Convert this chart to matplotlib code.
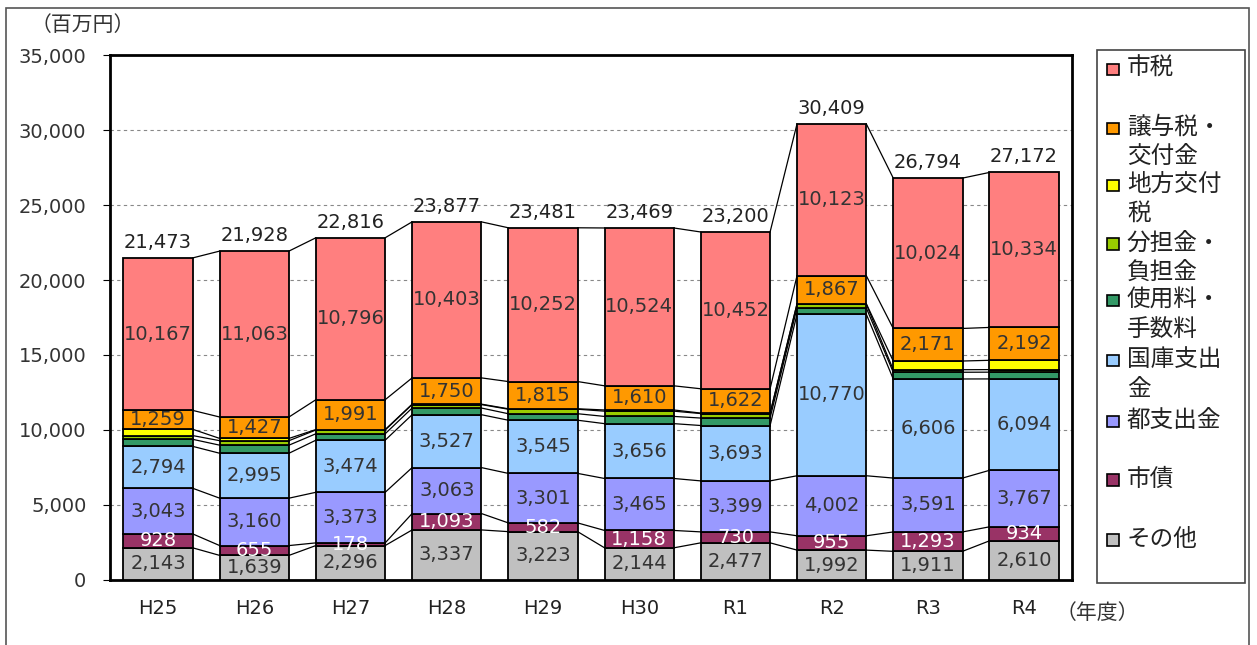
import matplotlib.pyplot as plt
from matplotlib.patches import Rectangle
import numpy as np

plt.rcParams['font.family'] = ['Noto Sans CJK JP', 'DejaVu Sans']

years = ['H25', 'H26', 'H27', 'H28', 'H29', 'H30', 'R1', 'R2', 'R3', 'R4']

# 下から積み上げる順
sonota = [2143, 1639, 2296, 3337, 3223, 2144, 2477, 1992, 1911, 2610]
shisai = [928, 655, 178, 1093, 582, 1158, 730, 955, 1293, 934]
toshishutsu = [3043, 3160, 3373, 3063, 3301, 3465, 3399, 4002, 3591, 3767]
kokko = [2794, 2995, 3474, 3527, 3545, 3656, 3693, 10770, 6606, 6094]
shiyoryo = [469, 539, 428, 444, 433, 482, 497, 420, 448, 451]
buntan = [250, 300, 250, 230, 300, 350, 300, 250, 170, 170]
chiho = [420, 150, 30, 30, 30, 80, 30, 30, 580, 620]
joyo = [1259, 1427, 1991, 1750, 1815, 1610, 1622, 1867, 2171, 2192]
shizei = [10167, 11063, 10796, 10403, 10252, 10524, 10452, 10123, 10024, 10334]

series = [
    ('その他', sonota, '#C0C0C0', True, '#333333'),
    ('市債', shisai, '#993366', True, 'white'),
    ('都支出金', toshishutsu, '#9999FF', True, '#333333'),
    ('国庫支出\n金', kokko, '#99CCFF', True, '#333333'),
    ('使用料・\n手数料', shiyoryo, '#339966', False, None),
    ('分担金・\n負担金', buntan, '#99CC00', False, None),
    ('地方交付\n税', chiho, '#FFFF00', False, None),
    ('譲与税・\n交付金', joyo, '#FF9900', True, '#333333'),
    ('市税', shizei, '#FF7F7F', True, '#333333'),
]

num_font = 'DejaVu Sans'

fig = plt.figure(figsize=(12.57, 6.45), dpi=100)
ax = fig.add_axes([0.0875, 0.1008, 0.7655, 0.8139])

x = np.arange(len(years))
w = 0.72
bottom = np.zeros(len(years))
levels = []
for name, vals, color, show, tcolor in series:
    vals = np.array(vals)
    ax.bar(x, vals, w, bottom=bottom, color=color, edgecolor='black',
           linewidth=1.3, zorder=3)
    if show:
        for i in range(len(x)):
            ax.text(x[i], bottom[i] + vals[i] / 2, f'{vals[i]:,}', ha='center',
                    va='center', fontsize=14, color=tcolor, zorder=5,
                    family=num_font)
    bottom = bottom + vals
    levels.append(bottom.copy())

# 系列線
for lv in levels:
    for i in range(len(x) - 1):
        ax.plot([x[i] + w / 2, x[i + 1] - w / 2], [lv[i], lv[i + 1]],
                color='black', linewidth=0.9, zorder=2)

totals = levels[-1]
for i in range(len(x)):
    ax.text(x[i], totals[i] + 400, f'{int(totals[i]):,}', ha='center',
            va='bottom', fontsize=14, color='#222222', family=num_font)

ax.set_xlim(-0.5, len(years) - 0.5)
ax.set_ylim(0, 35000)
ax.set_yticks(range(0, 35001, 5000))
ax.set_yticklabels([f'{v:,}' for v in range(0, 35001, 5000)], fontsize=14,
                   family=num_font, color='#333333')
ax.set_xticks(x)
ax.set_xticklabels(years, fontsize=14, family=num_font, color='#222222')
ax.tick_params(axis='x', length=0, pad=14)
ax.tick_params(axis='y', length=5, direction='out', pad=12)
ax.yaxis.grid(True, linestyle=(0, (3, 3)), color='#888888', linewidth=0.8, zorder=0)
for s in ax.spines.values():
    s.set_linewidth(2)

fig.text(0.024, 0.962, '（百万円）', fontsize=15, va='center', color='#333333')
fig.text(0.840, 0.05, '（年度）', fontsize=15, va='center', color='#333333')

# 凡例（手描き）
fig.patches.append(Rectangle((0.8727, 0.096), 0.1178, 0.826, transform=fig.transFigure,
                             fill=False, edgecolor='#444444', linewidth=1.2))
leg_y = [0.893, 0.801, 0.713, 0.622, 0.534, 0.441, 0.347, 0.256, 0.163]
for (name, vals, color, show, tcolor), yy in zip(series[::-1], leg_y):
    fig.patches.append(Rectangle((0.8805, yy - 0.009), 0.0095, 0.0175,
                                 transform=fig.transFigure, facecolor=color,
                                 edgecolor='black', linewidth=1.2))
    fig.text(0.8965, yy + 0.019, name, fontsize=17, va='top', ha='left',
             linespacing=1.35, color='#222222')

# 外枠
fig.patches.append(Rectangle((0.005, -0.01), 0.989, 0.997, transform=fig.transFigure,
                             fill=False, edgecolor='#555555', linewidth=1.2))

fig.savefig('out.png', dpi=100)
